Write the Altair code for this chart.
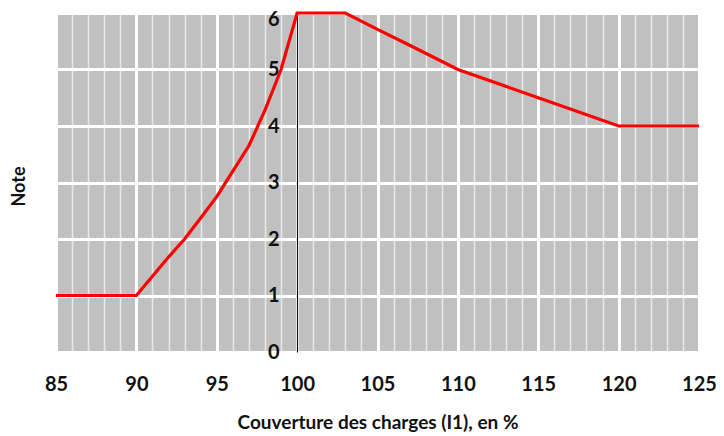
import altair as alt
import pandas as pd

# Data
couverture = [85, 90, 91, 92, 93, 94, 95, 96, 97, 98, 99, 100, 103, 105, 107, 110, 115, 120, 125]
note = [1, 1, 1.34, 1.68, 2.0, 2.37, 2.75, 3.2, 3.65, 4.28, 5.0, 6.0, 6.0, 5.71, 5.43, 5.0, 4.5, 4.0, 4.0]

x_ticks = list(range(85, 126))
y_ticks = [i / 2 for i in range(0, 13)]

df = pd.DataFrame({"x": couverture, "y": note})

FONT = "Lato"

x_axis = alt.Axis(
    values=x_ticks,
    format="d",
    labelExpr="datum.value % 5 === 0 ? datum.label : ''",
    grid=True,
    gridColor={"condition": {"test": "datum.value % 5 === 0", "value": "#ffffff"}, "value": "#e9e9e9"},
    gridWidth={"condition": {"test": "datum.value % 5 === 0", "value": 3}, "value": 1.5},
    gridOpacity=1,
    domain=False,
    ticks=False,
    labelFont=FONT,
    labelFontSize=20,
    labelFontWeight="bold",
    labelColor="#111111",
    labelPadding=22,
    labelFlush=False,
    labelOverlap=False,
    title="Couverture des charges (I1), en %",
    titleFont=FONT,
    titleFontSize=19,
    titleFontWeight="bold",
    titleColor="#111111",
    titleY=70,
    titleBaseline="middle",
)

y_axis = alt.Axis(
    values=y_ticks,
    format="d",
    labelExpr="datum.value % 1 === 0 ? datum.label : ''",
    grid=True,
    gridColor={"condition": {"test": "datum.value % 1 === 0", "value": "#ffffff"}, "value": "#e9e9e9"},
    gridWidth={"condition": {"test": "datum.value % 1 === 0", "value": 3}, "value": 1.5},
    gridOpacity=1,
    domain=True,
    domainColor="#111111",
    domainWidth=1.2,
    ticks=False,
    offset=-241,
    labelFont=FONT,
    labelFontSize=20,
    labelFontWeight="bold",
    labelColor="#111111",
    labelPadding=18,
    labelOffset={"condition": {"test": "datum.value === 6", "value": 6}, "value": 0},
    labelOverlap=False,
    title="Note",
    titleFont=FONT,
    titleFontSize=18,
    titleFontWeight="bold",
    titleColor="#111111",
    titleX=-278,
    titleY=173,
    titleBaseline="middle",
)

chart = (
    alt.Chart(df)
    .mark_line(color="#ff0000", strokeWidth=3.2, clip=False)
    .encode(
        x=alt.X("x:Q", scale=alt.Scale(domain=[85, 125], nice=False, zero=False), axis=x_axis),
        y=alt.Y("y:Q", scale=alt.Scale(domain=[0, 6], nice=False), axis=y_axis),
    )
    .properties(
        width=643,
        height=339,
        autosize=alt.AutoSizeParams(type="none"),
        padding={"left": 48, "top": 5, "right": 17, "bottom": 84},
        background="white",
    )
    .configure_view(fill="#c0c0c0", strokeOpacity=0)
)

chart.save("out.html", embed_options={"renderer": "svg", "actions": False})
